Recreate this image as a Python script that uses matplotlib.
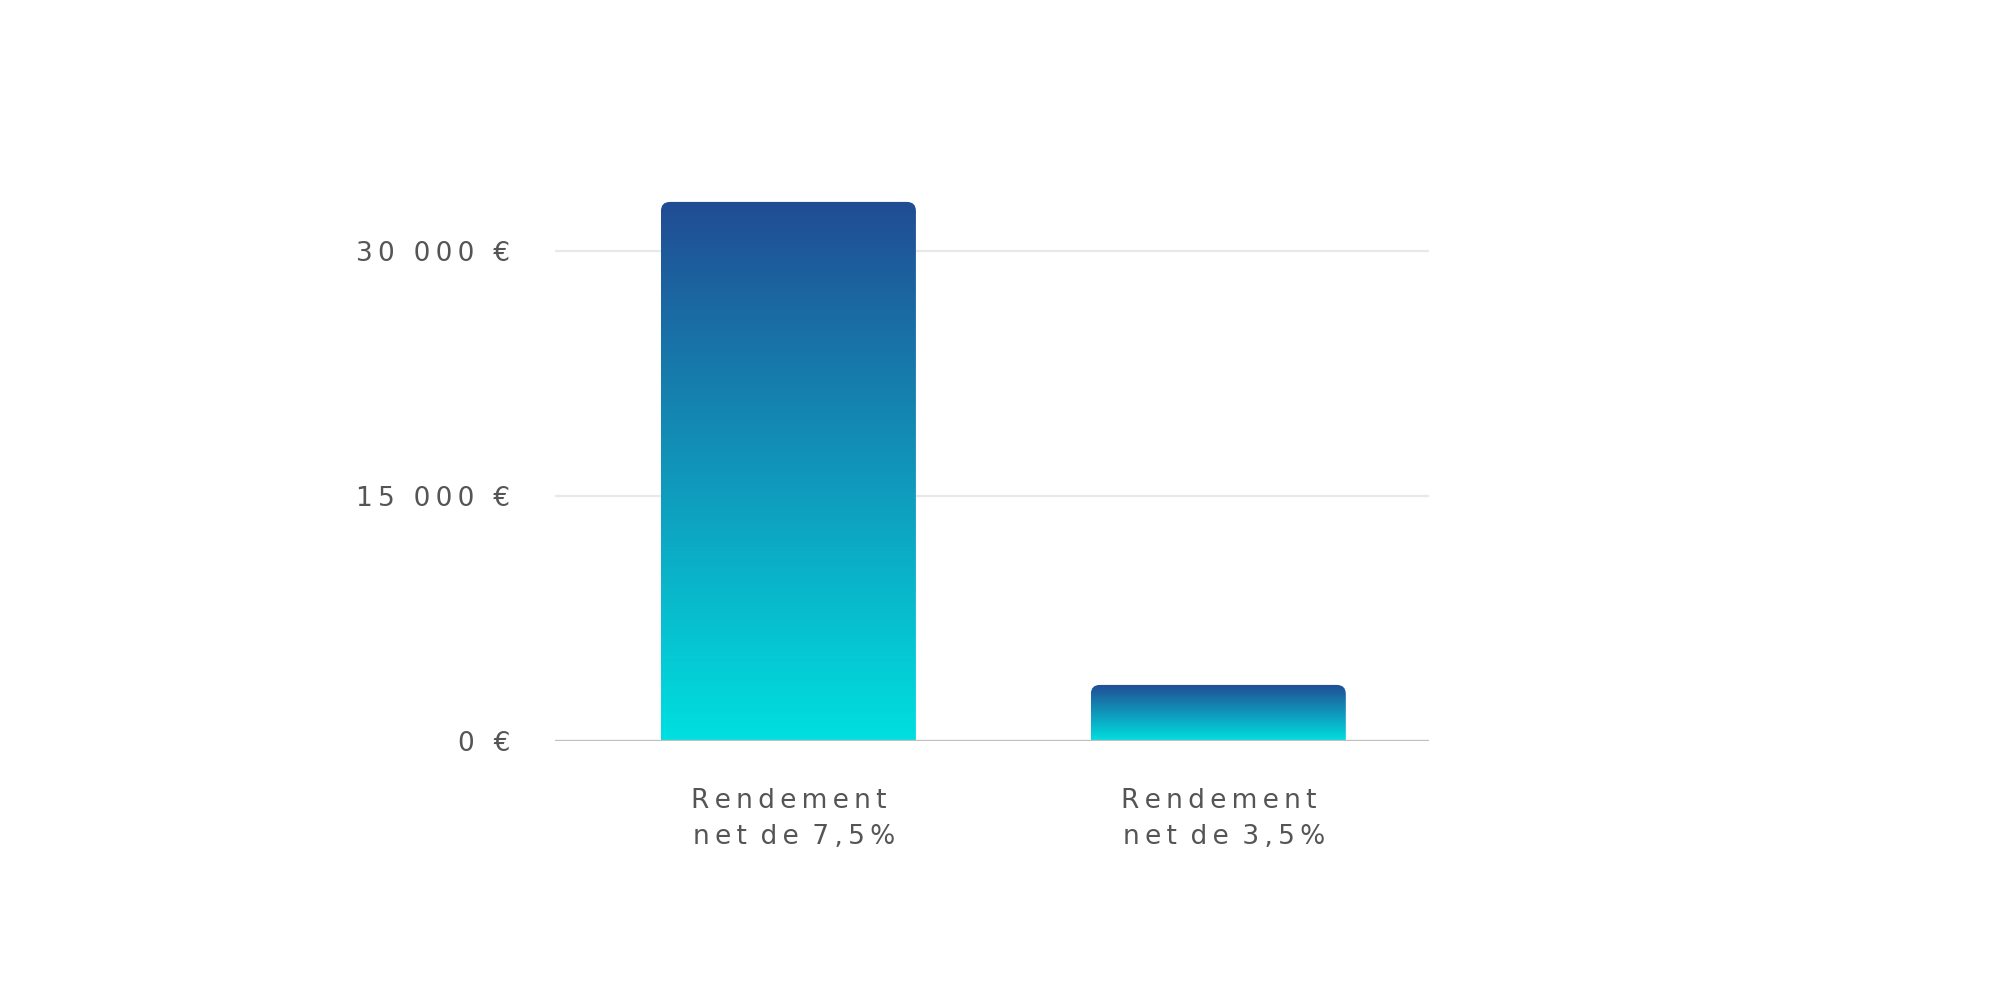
import numpy as np
import matplotlib
matplotlib.use("Agg")
import matplotlib.pyplot as plt
from matplotlib.patches import FancyBboxPatch
from matplotlib.colors import LinearSegmentedColormap

# data
categories = ["Rendement\n net de 7,5%", "Rendement\n net de 3,5%"]
values = [33000, 3430]
yticks = [0, 15000, 30000]
ytick_labels = ["0 €", "15 000 €", "30 000 €"]

text_color = "#555555"
cmap = LinearSegmentedColormap.from_list("bar", ["#00e0e0", "#214c94"])


def spaced(s, word_gap="\u2009"):
    # wide letter tracking like the original, using thin spaces
    out = []
    for line in s.split("\n"):
        res = ""
        for i, ch in enumerate(line):
            if i > 0:
                prev = line[i - 1]
                res += word_gap if (ch == " " or prev == " ") else "\u2009"
            res += ch
        out.append(res)
    return "\n".join(out)


fig = plt.figure(figsize=(20, 9.84), dpi=100)
ax = fig.add_axes([0.2775, 0.247, 0.437, 0.5976])

x = np.arange(len(values))
width = 0.593
ax.set_xlim(-0.543, 1.49)
ax.set_ylim(0, 36000)

# gridlines
for t in yticks[1:]:
    ax.axhline(t, color="#e8e8e8", lw=1.6, zorder=0)
ax.axhline(0, color="#c0c0c0", lw=2.4, zorder=3)

# gradient bars with rounded top corners
fig.canvas.draw()
bb = ax.get_window_extent()
x_per_px = (ax.get_xlim()[1] - ax.get_xlim()[0]) / bb.width
y_per_px = (ax.get_ylim()[1] - ax.get_ylim()[0]) / bb.height
aspect = y_per_px / x_per_px
r = 9 * x_per_px
grad = np.linspace(0, 1, 256).reshape(-1, 1)
for xi, v in zip(x, values):
    left = xi - width / 2
    patch = FancyBboxPatch((left, -r * aspect * 2), width, v + r * aspect * 2,
                           boxstyle=f"round,pad=0,rounding_size={r}",
                           mutation_aspect=aspect, transform=ax.transData,
                           facecolor="none", edgecolor="none")
    ax.add_patch(patch)
    im = ax.imshow(grad, cmap=cmap, origin="lower", aspect="auto",
                   extent=(left, left + width, 0, v), zorder=2)
    im.set_clip_path(patch)

ax.set_aspect("auto")
ax.set_xlim(-0.543, 1.49)
ax.set_ylim(0, 36000)

ax.set_yticks(yticks)
ax.set_yticklabels([spaced(t) for t in ytick_labels])
ax.set_xticks(x)
ax.set_xticklabels([spaced(c, word_gap="\u200a") for c in categories],
                   linespacing=1.5)
ax.tick_params(axis="y", length=0, pad=32, labelsize=19, labelcolor=text_color)
ax.tick_params(axis="x", length=0, pad=34, labelsize=19, labelcolor=text_color)
for s in ax.spines.values():
    s.set_visible(False)

fig.savefig("out.png", dpi=100, facecolor="white")
